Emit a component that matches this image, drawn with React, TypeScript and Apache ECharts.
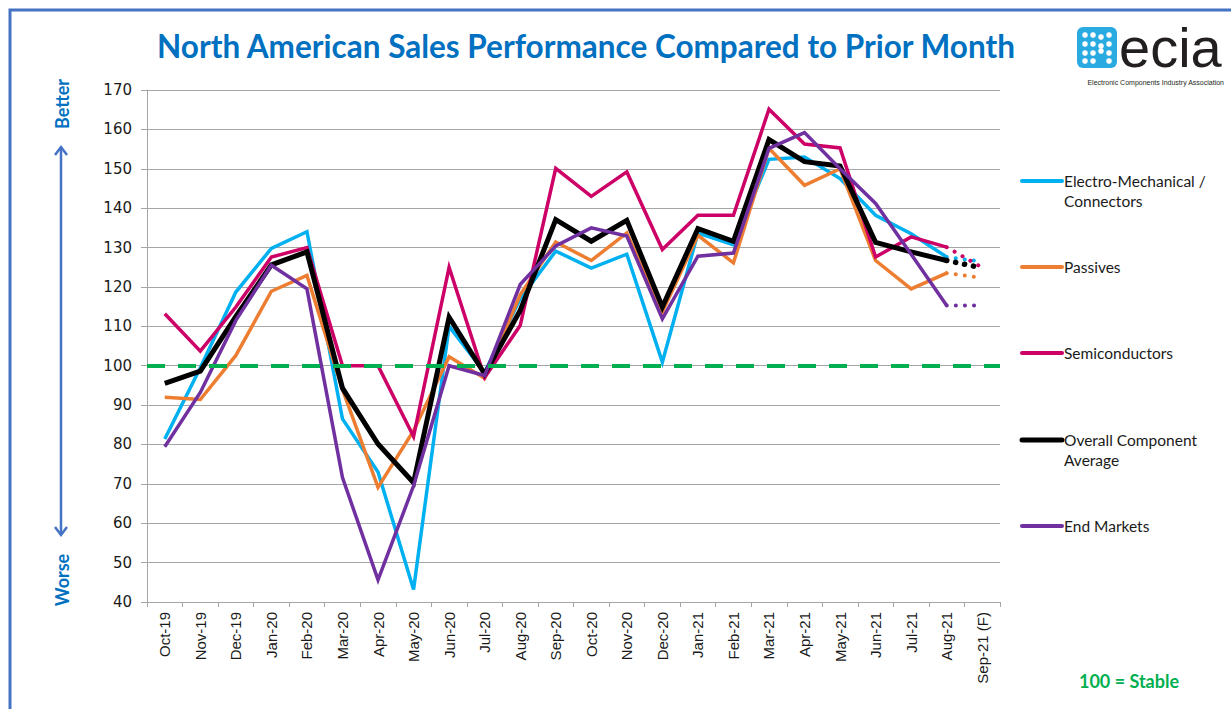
import React, { useEffect, useRef } from "react";
import * as echarts from "echarts";

const categories = [
  "Oct-19", "Nov-19", "Dec-19", "Jan-20", "Feb-20", "Mar-20", "Apr-20", "May-20",
  "Jun-20", "Jul-20", "Aug-20", "Sep-20", "Oct-20", "Nov-20", "Dec-20", "Jan-21",
  "Feb-21", "Mar-21", "Apr-21", "May-21", "Jun-21", "Jul-21", "Aug-21", "Sep-21 (F)",
];

const electroMech = [81.4, 99.5, 118.7, 129.8, 134, 86.5, 73, 43.2, 110, 98.3, 117, 129.1, 124.8, 128.3, 100.9, 133.7, 130.7, 152.4, 153, 147.5, 138.2, 133.5, 127.6, 126.4];
const passives = [92, 91.4, 102.6, 118.9, 122.9, 94, 69.1, 83.5, 102.3, 96.8, 118, 131.4, 126.7, 133.7, 113.6, 133.1, 126.1, 155.2, 145.8, 150, 126.7, 119.5, 123.5, 122.3];
const semiconductors = [113.2, 103.7, 114.9, 127.6, 130, 100, 100, 82, 125, 97, 110.2, 150.1, 143, 149.2, 129.5, 138.2, 138.2, 165.1, 156.3, 155.3, 127.6, 132.7, 130.1, 124.9];
const overallAverage = [95.5, 98.6, 112.5, 125.6, 128.9, 94.3, 80.1, 70.3, 112.3, 97.9, 114, 137.1, 131.6, 136.9, 114.9, 134.8, 131.6, 157.4, 151.8, 150.7, 131.3, 128.9, 126.7, 124.8];
const endMarkets = [79.4, 93.2, 111.5, 125.5, 119.5, 71.6, 45.6, 69.5, 100, 97.5, 120.6, 130.4, 135, 132.9, 111.9, 127.8, 128.6, 155.2, 159.2, 150, 141.2, 128.3, 115.3, 115.3];

const seriesNames = ["Electro-Mechanical / Connectors", "Passives", "Semiconductors", "Overall Component Average", "End Markets"];
const legendLines = [["Electro-Mechanical /", "Connectors"], ["Passives"], ["Semiconductors"], ["Overall Component", "Average"], ["End Markets"]];
const seriesColors = ["#00B0F0", "#ED7D31", "#CC0066", "#000000", "#7030A0"];
const seriesWidths = [3.5, 3.5, 3.5, 5, 3.5];
const seriesValues = [electroMech, passives, semiconductors, overallAverage, endMarkets];
const stableLevel = 100;
const yTicks = { min: 40, max: 170, interval: 10 };

export default function App() {
  const ref = useRef<HTMLDivElement>(null);
  useEffect(() => {
    if (!ref.current) return;
    const chart = echarts.init(ref.current, undefined, { renderer: "svg" });
    const last = categories.length - 1;
    const series: any[] = [];
    seriesValues.forEach((vals, i) => {
      series.push({
        type: "line",
        name: seriesNames[i],
        data: vals.map((v, j) => (j < last ? v : null)),
        symbol: "none",
        lineStyle: { color: seriesColors[i], width: seriesWidths[i], join: "miter" },
        itemStyle: { color: seriesColors[i] },
        z: 2 + i,
      });
      series.push({
        type: "line",
        name: seriesNames[i] + " (F)",
        data: vals.map((v, j) => (j >= last - 1 ? v : null)),
        symbol: "none",
        lineStyle: { color: seriesColors[i], width: seriesWidths[i] + 0.5, type: [0.1, 9], cap: "round" },
        z: 2 + i,
        ...(i === seriesValues.length - 1
          ? {
              markLine: {
                silent: true,
                symbol: "none",
                label: { show: false },
                lineStyle: { color: "#00B050", width: 4, type: [18, 13] },
                data: [{ yAxis: stableLevel }],
                z: 20,
              },
            }
          : {}),
      });
    });

    const legendGraphics: any[] = [];
    const legendY = [181, 267, 353, 440, 526];
    legendLines.forEach((lines, i) => {
      legendGraphics.push({
        type: "line",
        shape: { x1: 1022, y1: legendY[i], x2: 1062, y2: legendY[i] },
        style: { stroke: seriesColors[i], lineWidth: i === 3 ? 5 : 4, lineCap: "round" },
      });
      lines.forEach((t, k) => {
        legendGraphics.push({
          type: "text",
          x: 1064,
          y: legendY[i] + k * 20,
          style: { text: t, fill: "#1a1a1a", font: "15.5px Lato", textVerticalAlign: "middle", textAlign: "left" },
        });
      });
    });

    const logoDots: any[] = [];
    const dotPos = [
      [1085, 35], [1093, 35], [1101, 37], [1109, 35],
      [1085, 44], [1093, 44], [1101, 46], [1109, 44],
      [1085, 53], [1093, 53], [1101, 51], [1109, 53],
      [1085, 61], [1093, 61], [1109, 61],
    ];
    dotPos.forEach(([x, y]) => logoDots.push({ type: "circle", shape: { cx: x, cy: y, r: 2.8 }, style: { fill: "#fff" } }));

    chart.setOption({
      animation: false,
      backgroundColor: "#ffffff",
      title: {
        text: "North American Sales Performance Compared to Prior Month",
        left: 581,
        top: 25,
        textAlign: "center",
        textStyle: { color: "#0070C0", fontFamily: "Lato", fontWeight: "bold", fontSize: 31.5 },
      },
      grid: { left: 147, top: 90, width: 853, height: 512, containLabel: false },
      xAxis: {
        type: "category",
        data: categories,
        boundaryGap: true,
        axisLine: { lineStyle: { color: "#A6A6A6", width: 1 } },
        axisTick: { show: true, length: 5, alignWithLabel: false, lineStyle: { color: "#A6A6A6" } },
        axisLabel: { rotate: 90, interval: 0, margin: 10, color: "#1a1a1a", fontFamily: "Liberation Sans", fontSize: 15 },
        splitLine: { show: false },
      },
      yAxis: {
        type: "value",
        min: yTicks.min,
        max: yTicks.max,
        interval: yTicks.interval,
        axisLine: { show: true, lineStyle: { color: "#A6A6A6" } },
        axisTick: { show: true, length: 6, lineStyle: { color: "#A6A6A6" } },
        axisLabel: { margin: 15, color: "#1a1a1a", fontFamily: "DejaVu Sans", fontSize: 15 },
        splitLine: { lineStyle: { color: "#A6A6A6", width: 1 } },
      },
      series,
      graphic: [
        {
          type: "rect",
          shape: { x: 10, y: 10, width: 1300, height: 800 },
          style: { fill: "none", stroke: "#4472C4", lineWidth: 3 },
          silent: true,
        },
        {
          type: "line",
          shape: { x1: 61, y1: 148, x2: 61, y2: 534 },
          style: { stroke: "#4472C4", lineWidth: 2.5 },
        },
        {
          type: "polyline",
          shape: { points: [[55, 155], [61, 147], [67, 155]] },
          style: { stroke: "#4472C4", lineWidth: 2.5, fill: "none" },
        },
        {
          type: "polyline",
          shape: { points: [[55, 527], [61, 535], [67, 527]] },
          style: { stroke: "#4472C4", lineWidth: 2.5, fill: "none" },
        },
        {
          type: "text",
          x: 62,
          y: 104,
          rotation: Math.PI / 2,
          style: { text: "Better", fill: "#0070C0", font: "bold 18px Lato", textAlign: "center", textVerticalAlign: "middle" },
        },
        {
          type: "text",
          x: 62,
          y: 580,
          rotation: Math.PI / 2,
          style: { text: "Worse", fill: "#0070C0", font: "bold 18px Lato", textAlign: "center", textVerticalAlign: "middle" },
        },
        {
          type: "text",
          x: 1129,
          y: 681,
          style: { text: "100 = Stable", fill: "#00B050", font: "bold 18px Lato", textAlign: "center", textVerticalAlign: "middle" },
        },
        {
          type: "rect",
          shape: { x: 1077, y: 27, width: 40, height: 41, r: 6 },
          style: { fill: "#29ABE2" },
        },
        ...logoDots,
        {
          type: "text",
          x: 1119,
          y: 47,
          style: { text: "ecia", fill: "#231F20", font: "56px 'Liberation Sans'", textAlign: "left", textVerticalAlign: "middle" },
        },
        {
          type: "text",
          x: 1224,
          y: 82,
          style: { text: "Electronic Components Industry Association", fill: "#231F20", font: "7px 'Liberation Sans'", textAlign: "right", textVerticalAlign: "middle" },
        },
        ...legendGraphics,
      ],
    });
    return () => chart.dispose();
  }, []);
  return <div ref={ref} style={{ position: "fixed", left: 0, top: 0, width: 1231, height: 709, background: "#fff" }} />;
}
